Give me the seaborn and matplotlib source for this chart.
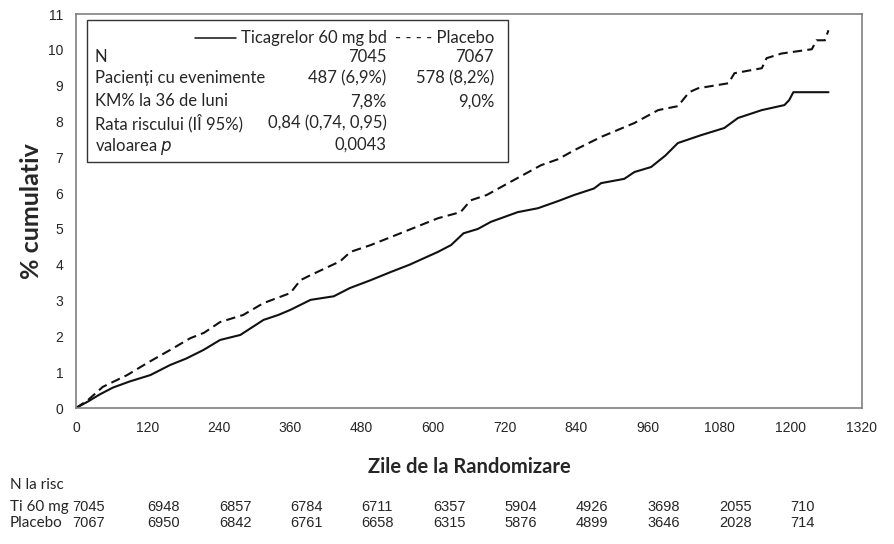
import matplotlib
matplotlib.use("Agg")
import pandas as pd
import seaborn as sns
from matplotlib import pyplot as plt
from matplotlib.patches import Rectangle
from matplotlib.lines import Line2D
from matplotlib.transforms import blended_transform_factory

# cumulative event curves (day, %)
tica_days = [0, 20, 40, 62, 90, 125, 158, 185, 214, 242, 276, 315, 340, 360, 394, 433,
             460, 495, 529, 560, 608, 630, 651, 675, 697, 742, 776, 810, 837, 870, 882,
             921, 938, 966, 990, 1011, 1050, 1089, 1112, 1152, 1190, 1198, 1205, 1264]
tica_pct = [0, 0.18, 0.38, 0.57, 0.74, 0.92, 1.2, 1.38, 1.62, 1.9, 2.04, 2.46, 2.6,
            2.74, 3.02, 3.12, 3.35, 3.57, 3.8, 4.0, 4.36, 4.55, 4.88, 5.0, 5.2, 5.47,
            5.58, 5.78, 5.95, 6.13, 6.28, 6.4, 6.59, 6.73, 7.05, 7.4, 7.62, 7.82, 8.1,
            8.32, 8.46, 8.6, 8.82, 8.82]
plac_days = [0, 20, 45, 86, 120, 158, 192, 215, 242, 281, 315, 360, 377, 394, 444, 461,
             495, 545, 608, 646, 663, 690, 726, 781, 810, 837, 882, 938, 978, 1011, 1030,
             1045, 1096, 1106, 1152, 1160, 1185, 1236, 1244, 1258, 1264]
plac_pct = [0, 0.22, 0.59, 0.92, 1.26, 1.62, 1.95, 2.1, 2.4, 2.6, 2.93, 3.21, 3.57,
            3.71, 4.1, 4.36, 4.55, 4.88, 5.3, 5.47, 5.8, 5.95, 6.28, 6.78, 6.95, 7.2,
            7.57, 7.96, 8.32, 8.43, 8.82, 8.93, 9.07, 9.35, 9.49, 9.77, 9.9, 10.02,
            10.27, 10.27, 10.55]

x_ticks = [0, 120, 240, 360, 480, 600, 720, 840, 960, 1080, 1200, 1320]
y_ticks = list(range(0, 12))

risk_days = [0, 120, 240, 360, 480, 600, 720, 840, 960, 1080, 1200]
risk_tica = [7045, 6948, 6857, 6784, 6711, 6357, 5904, 4926, 3698, 2055, 710]
risk_plac = [7067, 6950, 6842, 6761, 6658, 6315, 5876, 4899, 3646, 2028, 714]

box_rows = ["N", "Pacienți cu evenimente", "KM% la 36 de luni", "Rata riscului (IÎ 95%)"]
box_tica = ["7045", "487 (6,9%)", "7,8%", "0,84 (0,74, 0,95)"]
box_plac = ["7067", "578 (8,2%)", "9,0%", ""]
p_value = "0,0043"


def main() -> None:
    sns.set_theme(style="white")
    plt.rcParams["font.family"] = ["Lato", "DejaVu Sans"]

    df = pd.concat(
        [
            pd.DataFrame({"day": tica_days, "pct": tica_pct, "arm": "Ticagrelor"}),
            pd.DataFrame({"day": plac_days, "pct": plac_pct, "arm": "Placebo"}),
        ],
        ignore_index=True,
    )

    fig = plt.figure(figsize=(8.94, 5.44), dpi=100)
    ax = fig.add_axes([0.085, 0.25, 0.879, 0.724])
    sns.lineplot(
        data=df, x="day", y="pct", style="arm", color="#111111",
        dashes={"Ticagrelor": "", "Placebo": (4.5, 2.5)},
        estimator=None, linewidth=1.5, legend=False, ax=ax,
    )

    ax.set_xlim(0, 1320)
    ax.set_ylim(0, 11)
    ax.set_xticks(x_ticks)
    ax.set_yticks(y_ticks)
    tick_font = {"family": ["Liberation Sans"], "size": 10}
    ax.set_xticklabels([str(t) for t in x_ticks], fontdict=tick_font)
    ax.set_yticklabels([str(t) for t in y_ticks], fontdict=tick_font)
    ax.tick_params(direction="out", length=5, width=1, color="#808080", pad=4)
    for spine in ax.spines.values():
        spine.set_color("#808080")
        spine.set_linewidth(1.2)
    ax.set_xlabel("Zile de la Randomizare", fontsize=14.5, fontweight="bold", labelpad=16)
    ax.set_ylabel("% cumulativ", fontsize=18, fontweight="bold", labelpad=4)

    # statistics box
    ax.add_patch(Rectangle((0.014, 0.624), 0.536, 0.361, transform=ax.transAxes,
                           fill=False, edgecolor="#333333", linewidth=1))
    tx = ax.transAxes
    fs = 12
    col_lab, col1, col2 = 0.024, 0.395, 0.532
    ax.add_line(Line2D([0.152, 0.203], [0.939, 0.939], transform=tx, color="#111111", lw=1.1))
    ax.text(col1, 0.939, "Ticagrelor 60 mg bd", transform=tx, ha="right", va="center", fontsize=fs)
    ax.text(col2, 0.939, "- - - - Placebo", transform=tx, ha="right", va="center", fontsize=fs)
    row_y = [0.891, 0.838, 0.779, 0.723]
    for label, v1, v2, y in zip(box_rows, box_tica, box_plac, row_y):
        ax.text(col_lab, y, label, transform=tx, ha="left", va="center", fontsize=fs)
        ax.text(col1, y, v1, transform=tx, ha="right", va="center", fontsize=fs)
        ax.text(col2, y, v2, transform=tx, ha="right", va="center", fontsize=fs)
    ax.text(col_lab, 0.664, "valoarea $\\it{p}$", transform=tx, ha="left", va="center", fontsize=fs)
    ax.text(col1, 0.668, p_value, transform=tx, ha="right", va="center", fontsize=fs)

    # numbers at risk table
    fig.text(10 / 894, 1 - 485 / 544, "N la risc", ha="left", va="center", fontsize=11)
    fig.text(10 / 894, 1 - 507 / 544, "Ti 60 mg", ha="left", va="center", fontsize=11)
    fig.text(10 / 894, 1 - 523 / 544, "Placebo", ha="left", va="center", fontsize=11)
    trans = blended_transform_factory(ax.transData, fig.transFigure)
    for day, n1, n2 in zip(risk_days, risk_tica, risk_plac):
        x = day - 7 if day == 0 else day
        ax.text(x, 1 - 507 / 544, str(n1), transform=trans, ha="left", va="center",
                fontsize=10.5, family=["Liberation Sans"], clip_on=False)
        ax.text(x, 1 - 523 / 544, str(n2), transform=trans, ha="left", va="center",
                fontsize=10.5, family=["Liberation Sans"], clip_on=False)

    fig.savefig("out.png", dpi=100)
    plt.close(fig)


if __name__ == "__main__":
    main()
